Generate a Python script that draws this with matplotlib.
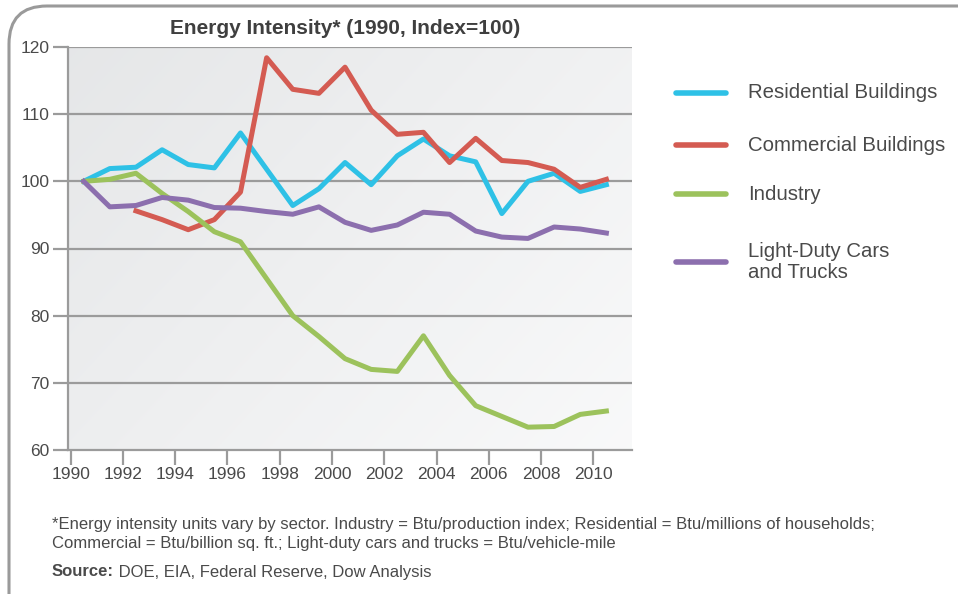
import numpy as np
import matplotlib
matplotlib.use("Agg")
import matplotlib.pyplot as plt
from matplotlib.patches import FancyBboxPatch
from matplotlib.lines import Line2D

# ---- data ----
years = list(range(1990, 2011))
residential = [100, 101.9, 102.1, 104.7, 102.5, 102.0, 107.2, 101.8, 96.4, 98.9,
               102.8, 99.5, 103.8, 106.3, 103.8, 102.9, 95.2, 100.0, 101.2, 98.5, 99.5]
commercial_years = list(range(1992, 2011))
commercial = [95.6, 94.3, 92.8, 94.3, 98.4, 118.4, 113.7, 113.1, 117.0, 110.6,
              107.0, 107.3, 102.8, 106.4, 103.1, 102.8, 101.8, 99.1, 100.3]
industry = [100, 100.3, 101.2, 98.2, 95.5, 92.5, 91.0, 85.5, 80.0, 76.9,
            73.6, 72.0, 71.7, 77.0, 71.1, 66.6, 65.0, 63.4, 63.5, 65.3, 65.8]
light_duty = [100, 96.2, 96.4, 97.6, 97.2, 96.1, 96.0, 95.5, 95.1, 96.2,
              93.9, 92.7, 93.5, 95.4, 95.1, 92.6, 91.7, 91.5, 93.2, 92.9, 92.3]

series_labels = ["Residential Buildings", "Commercial Buildings", "Industry",
                 "Light-Duty Cars\nand Trucks"]
colors = ["#2ec1e6", "#d45b52", "#9cc25c", "#8c6fae"]
x_ticks = list(range(1990, 2011, 2))
y_ticks = [60, 70, 80, 90, 100, 110, 120]

title = "Energy Intensity* (1990, Index=100)"
note = ("*Energy intensity units vary by sector. Industry = Btu/production index; "
        "Residential = Btu/millions of households;\n"
        "Commercial = Btu/billion sq. ft.; Light-duty cars and trucks = Btu/vehicle-mile")
source_label = "Source:"
source_text = " DOE, EIA, Federal Reserve, Dow Analysis"

FONT = ["Liberation Sans", "DejaVu Sans"]
plt.rcParams["font.family"] = FONT
TXT = "#4a4a4a"
GRID = "#9b9b9b"

W, H = 958, 594
fig = plt.figure(figsize=(W / 100, H / 100), dpi=100)
fig.patch.set_facecolor("white")

# overlay for border in pixel coords
ov = fig.add_axes([0, 0, 1, 1], zorder=-5)
ov.set_xlim(0, W)
ov.set_ylim(H, 0)
ov.axis("off")
ov.add_patch(FancyBboxPatch((9, 6), W + 60, H + 60,
                            boxstyle="round,pad=0,rounding_size=38",
                            fc="white", ec="#9a9a9a", lw=2.2))

# main axes
l, r, t, b = 68, 632, 47, 450
ax = fig.add_axes([l / W, 1 - b / H, (r - l) / W, (b - t) / H])
ax.set_xlim(1989.9, 2011.48)
ax.set_ylim(60, 120)

# gradient background
grad = np.linspace(0, 1, 256)
gx, gy = np.meshgrid(grad, grad)
g = 0.6 * gx + 0.4 * (1 - gy)
c0 = np.array([0.90, 0.905, 0.91])
c1 = np.array([0.975, 0.977, 0.98])
img = c0[None, None, :] * (1 - g[..., None]) + c1[None, None, :] * g[..., None]
ax.imshow(img, extent=[0, 1, 0, 1], transform=ax.transAxes, aspect="auto",
          zorder=0, origin="lower")

for yv in y_ticks[1:]:
    ax.axhline(yv, color=GRID, lw=1.6, zorder=1)

off = 0.5
ax.plot(np.array(years) + off, residential, color=colors[0], lw=3.6, zorder=3)
ax.plot(np.array(commercial_years) + off, commercial, color=colors[1], lw=3.6, zorder=3)
ax.plot(np.array(years) + off, industry, color=colors[2], lw=3.6, zorder=3)
ax.plot(np.array(years) + off, light_duty, color=colors[3], lw=3.6, zorder=3)

for s in ["top", "right"]:
    ax.spines[s].set_visible(False)
for s in ["left", "bottom"]:
    ax.spines[s].set_color(GRID)
    ax.spines[s].set_linewidth(1.6)
ax.set_xticks(x_ticks)
ax.set_yticks(y_ticks)
ax.tick_params(axis="both", direction="out", length=10.5, width=1.6, color=GRID,
               labelsize=12.5, labelcolor=TXT)
ax.tick_params(axis="x", pad=2)
ax.tick_params(axis="y", pad=3)

fig.text(345 / W, 1 - 28 / H, title, ha="center", va="center", fontsize=15,
         fontweight="bold", color="#3f3f3f")

# legend (manual)
leg_y = [93, 145, 194, 262]
for lbl, c, yy in zip(series_labels, colors, leg_y):
    fig.add_artist(Line2D([676 / W, 726 / W], [1 - yy / H, 1 - yy / H], color=c,
                          lw=4, solid_capstyle="round"))
    fig.text(748 / W, 1 - yy / H, lbl, ha="left", va="center", fontsize=14.7,
             color=TXT, linespacing=1.15)

fig.text(52 / W, 1 - 534 / H, note, ha="left", va="center", fontsize=12,
         color=TXT, linespacing=1.3)
src = fig.text(52 / W, 1 - 572 / H, source_label, ha="left", va="center", fontsize=12,
               color=TXT, fontweight="bold")
fig.canvas.draw()
bb = src.get_window_extent()
fig.text(bb.x1 / W, 1 - 572 / H, source_text, ha="left", va="center", fontsize=12,
         color=TXT)

fig.savefig("out.png", dpi=100)
